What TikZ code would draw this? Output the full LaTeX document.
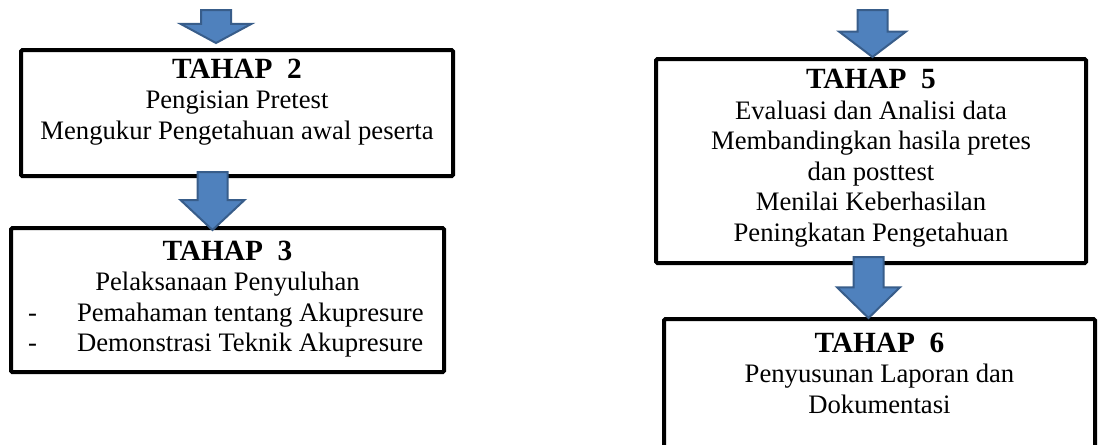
\documentclass[tikz,border=0pt]{standalone}
\usepackage{fontspec}
\setmainfont{Liberation Serif}
\usetikzlibrary{calc}

\definecolor{panahisi}{HTML}{4F81BD}
\definecolor{panahtepi}{HTML}{385D8A}

\newcommand{\judul}[1]{\textbf{\fontsize{22}{22.9}\selectfont TAHAP\ \ #1}}

\tikzset{
  kotak/.style={draw=black, line width=3pt, rounded corners=1pt, inner sep=0pt},
  teks/.style={align=center, inner sep=0pt, anchor=north, font=\fontsize{20}{22.9}\selectfont},
  panah/.style 2 args={fill=panahisi, draw=panahtepi, line width=1.5pt,
    to path={let \p1=(\tikztostart), \p2=(\tikztotarget) in
      (\x1-11.25pt,\y1) -- (\x1+11.25pt,\y1) -- (\x1+11.25pt,\y2+#2) -- (\x1+#1,\y2+#2)
      -- (\x2,\y2) -- (\x1-#1,\y2+#2) -- (\x1-11.25pt,\y2+#2) -- cycle}}
}

\begin{document}
\begin{tikzpicture}[x=0.75pt,y=-0.75pt]
\useasboundingbox (0,0) rectangle (1104,444);
\clip (0,0) rectangle (1104,444);

%boxes
\node[kotak, minimum width=324pt, minimum height=94.5pt] (b2) at (237,113) {};
\node[kotak, minimum width=324.75pt, minimum height=108pt] (b3) at (227.5,300) {};
\node[kotak, minimum width=322.5pt, minimum height=153pt] (b5) at (871,161) {};
\node[kotak, minimum width=323.25pt, minimum height=120pt] (b6) at (879.5,399) {};

%texts
\node[teks] (t2) at ([yshift=-8pt]b2.north) {\judul{2}\\Pengisian Pretest\\Mengukur Pengetahuan awal peserta};
\node[teks] (t3) at ([yshift=-11pt]b3.north) {\judul{3}\\Pelaksanaan Penyuluhan\\
  \makebox[299pt][l]{-\hspace{30pt}Pemahaman tentang Akupresure}\\
  \makebox[299pt][l]{-\hspace{30pt}Demonstrasi Teknik Akupresure}};
\node[teks] (t5) at ([yshift=-9pt]b5.north) {\judul{5}\\Evaluasi dan Analisi data\\Membandingkan hasila pretes\\dan posttest\\Menilai Keberhasilan\\Peningkatan Pengetahuan};
\node[teks] (t6) at ([yshift=-11.75pt]b6.north) {\judul{6}\\Penyusunan Laporan dan\\Dokumentasi};

%arrow ends
\coordinate (p1) at (216,10);    \coordinate (q1) at (216,43);
\coordinate (p2) at (212.5,172); \coordinate (q2) at (212.5,230);
\coordinate (p3) at (872.5,10);  \coordinate (q3) at (872.5,57);
\coordinate (p4) at (868.5,257); \coordinate (q4) at (868.5,318);

\draw[panah={26.5pt}{14.3pt}] (p1) to (q1); %into tahap 2
\draw[panah={24pt}{22.5pt}]   (p2) to (q2); %2 -> 3
\draw[panah={25pt}{19pt}]     (p3) to (q3); %into tahap 5
\draw[panah={23.6pt}{23pt}]   (p4) to (q4); %5 -> 6
\end{tikzpicture}
\end{document}
